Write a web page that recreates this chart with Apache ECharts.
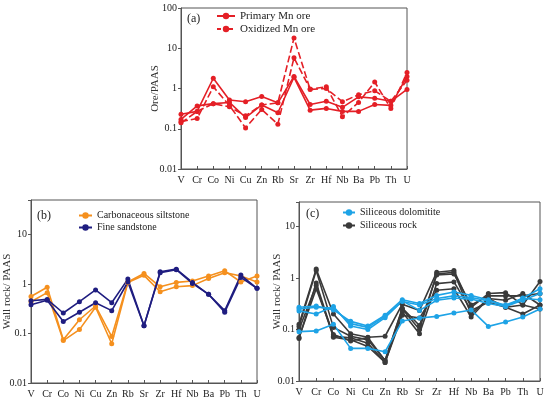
<!DOCTYPE html>
<html><head><meta charset="utf-8">
<script src="https://cdn.jsdelivr.net/npm/echarts@6/dist/echarts.min.js"></script>
<style>html,body{margin:0;padding:0;background:#fff}#c{width:550px;height:400px}</style>
</head><body><div id="c"></div>
<script>
const elements = ['V','Cr','Co','Ni','Cu','Zn','Rb','Sr','Zr','Hf','Nb','Ba','Pb','Th','U'];
const yTickLabels = {'-2':'0.01','-1':'0.1','0':'1','1':'10','2':'100'};

// Panel (a)
const primary1 = [0.23,0.27,1.8,0.52,0.47,0.63,0.44,2.0,0.40,0.48,0.34,0.62,0.57,0.48,0.95];
const primary2 = [0.17,0.37,0.42,0.45,0.19,0.39,0.25,1.9,0.29,0.32,0.27,0.27,0.40,0.38,2.0];
const oxidized1 = [0.15,0.18,1.1,0.38,0.105,0.30,0.13,5.8,0.97,1.1,0.20,0.45,1.45,0.32,2.5];
const oxidized2 = [0.14,0.27,0.42,0.35,0.21,0.39,0.44,18,0.95,1.0,0.47,0.70,0.88,0.48,1.6];

// Panel (b)
const carb1 = [0.56,0.86,0.075,0.19,0.36,0.087,1.1,1.64,0.88,1.08,1.15,1.45,1.85,1.1,1.45];
const carb2 = [0.44,0.67,0.072,0.12,0.34,0.062,1.07,1.5,0.70,0.88,0.93,1.3,1.7,1.45,1.1];
const sand1 = [0.46,0.49,0.26,0.44,0.76,0.42,1.26,0.143,1.77,2.0,1.08,0.62,0.29,1.52,0.82];
const sand2 = [0.38,0.47,0.175,0.27,0.42,0.29,1.1,0.143,1.7,1.95,1.03,0.62,0.27,1.36,0.82];

// Panel (c)
const dolo1 = [0.27,0.285,0.24,0.144,0.117,0.19,0.38,0.32,0.46,0.535,0.46,0.38,0.28,0.41,0.62];
const dolo2 = [0.23,0.20,0.28,0.117,0.10,0.17,0.36,0.235,0.37,0.41,0.39,0.32,0.28,0.37,0.50];
const dolo3 = [0.091,0.094,0.127,0.043,0.043,0.037,0.146,0.167,0.18,0.21,0.24,0.115,0.14,0.175,0.25];
const dolo4 = [0.25,0.27,0.26,0.13,0.11,0.18,0.35,0.30,0.40,0.45,0.42,0.36,0.30,0.40,0.38];
const rock1 = [0.127,1.5,0.20,0.083,0.071,0.074,0.31,0.235,1.3,1.4,0.27,0.50,0.52,0.30,0.86];
const rock2 = [0.114,1.4,0.11,0.074,0.063,0.025,0.25,0.10,1.2,1.3,0.20,0.40,0.37,0.50,0.30];
const rock3 = [0.067,0.80,0.074,0.069,0.054,0.023,0.22,0.083,0.78,0.84,0.235,0.34,0.27,0.20,0.30];
const rock4 = [0.10,0.72,0.071,0.063,0.047,0.023,0.19,0.167,0.58,0.62,0.175,0.40,0.27,0.30,0.25];
const rock5 = [0.07,0.62,0.08,0.06,0.07,0.025,0.26,0.12,1.15,1.2,0.30,0.45,0.45,0.45,0.50];

const FONT = '"Liberation Serif","DejaVu Serif",serif';
const RED = '#e41f26', ORANGE = '#f5901e', NAVY = '#1f1d80', BLUE = '#1ea3e6', DARK = '#3a3a3a';

function yFmt(v){
  const l = Math.log10(v), e = Math.round(l);
  if (Math.abs(l - e) > 1e-6) return '';
  return yTickLabels[String(e)] || '';
}
function xAxis(i){
  return {type:'category', gridIndex:i, data:elements, boundaryGap:false,
    axisLine:{lineStyle:{color:'#555',width:1}},
    axisTick:{inside:true,length:3,lineStyle:{color:'#555'}},
    axisLabel:{color:'#222',fontFamily:FONT,fontSize:10,margin:6,interval:0}};
}
function yAxis(i,max,name,gap){
  return {type:'log', logBase:10, gridIndex:i, min:0.01, max:max,
    name:name, nameLocation:'middle', nameGap:gap, nameRotate:90, nameMoveOverlap:false,
    nameTextStyle:{color:'#333',fontFamily:FONT,fontSize:11},
    axisLine:{show:true,lineStyle:{color:'#555',width:1}},
    axisTick:{show:true,length:3,lineStyle:{color:'#555'}},
    splitLine:{show:false}, minorTick:{show:false},
    axisLabel:{color:'#222',fontFamily:FONT,fontSize:10,margin:4,formatter:yFmt,showMaxLabel:true,showMinLabel:true}};
}
function line(name,data,color,idx,dashed){
  return {type:'line', name:name, data:data, xAxisIndex:idx, yAxisIndex:idx,
    symbol:'circle', symbolSize:5, itemStyle:{color:color},
    lineStyle:{color:color,width:1.6,type:dashed?[7,3]:'solid'}, animation:false, z:3};
}

const chart = echarts.init(document.getElementById('c'), null, {renderer:'canvas'});
chart.setOption({
  backgroundColor:'#fff',
  animation:false,
  grid:[
    {left:181,right:143,top:8,bottom:231,show:true,borderColor:'#555',borderWidth:1},
    {left:31,right:293,top:200,bottom:17,show:true,borderColor:'#555',borderWidth:1},
    {left:299,right:10,top:202,bottom:19,show:true,borderColor:'#555',borderWidth:1}
  ],
  xAxis:[xAxis(0),xAxis(1),xAxis(2)],
  yAxis:[yAxis(0,100,'Ore/PAAS',20),yAxis(1,50,'Wall rock/ PAAS',18),yAxis(2,30,'Wall rock/ PAAS',16)],
  legend:[
    {data:['Primary Mn ore',{name:'Oxidized Mn ore',lineStyle:{type:[4,2]}}],orient:'vertical',left:216,top:10,padding:0,itemWidth:18,itemHeight:8,itemGap:1,
     textStyle:{fontFamily:FONT,fontSize:11,color:'#222',lineHeight:12}},
    {data:['Carbonaceous siltstone','Fine sandstone'],orient:'vertical',left:78,top:210,padding:0,itemWidth:13,itemHeight:8,itemGap:1,
     textStyle:{fontFamily:FONT,fontSize:10,color:'#222',lineHeight:11}},
    {data:['Siliceous dolomitite','Siliceous rock'],orient:'vertical',left:342,top:207,padding:0,itemWidth:12,itemHeight:8,itemGap:2,
     textStyle:{fontFamily:FONT,fontSize:10,color:'#222',lineHeight:11}}
  ],
  graphic:[
    {type:'text',left:187,top:13,style:{text:'(a)',font:'12px '+FONT,fill:'#222'}},
    {type:'text',left:37,top:210,style:{text:'(b)',font:'12px '+FONT,fill:'#222'}},
    {type:'text',left:306,top:208,style:{text:'(c)',font:'12px '+FONT,fill:'#222'}}
  ],
  series:[
    line('Primary Mn ore',primary1,RED,0,false),
    line('Primary Mn ore',primary2,RED,0,false),
    line('Oxidized Mn ore',oxidized1,RED,0,true),
    line('Oxidized Mn ore',oxidized2,RED,0,true),
    line('Carbonaceous siltstone',carb1,ORANGE,1,false),
    line('Carbonaceous siltstone',carb2,ORANGE,1,false),
    line('Fine sandstone',sand1,NAVY,1,false),
    line('Fine sandstone',sand2,NAVY,1,false),
    line('Siliceous rock',rock1,DARK,2,false),
    line('Siliceous rock',rock2,DARK,2,false),
    line('Siliceous rock',rock3,DARK,2,false),
    line('Siliceous rock',rock4,DARK,2,false),
    line('Siliceous rock',rock5,DARK,2,false),
    line('Siliceous dolomitite',dolo1,BLUE,2,false),
    line('Siliceous dolomitite',dolo2,BLUE,2,false),
    line('Siliceous dolomitite',dolo3,BLUE,2,false),
    line('Siliceous dolomitite',dolo4,BLUE,2,false)
  ]
});
</script></body></html>
